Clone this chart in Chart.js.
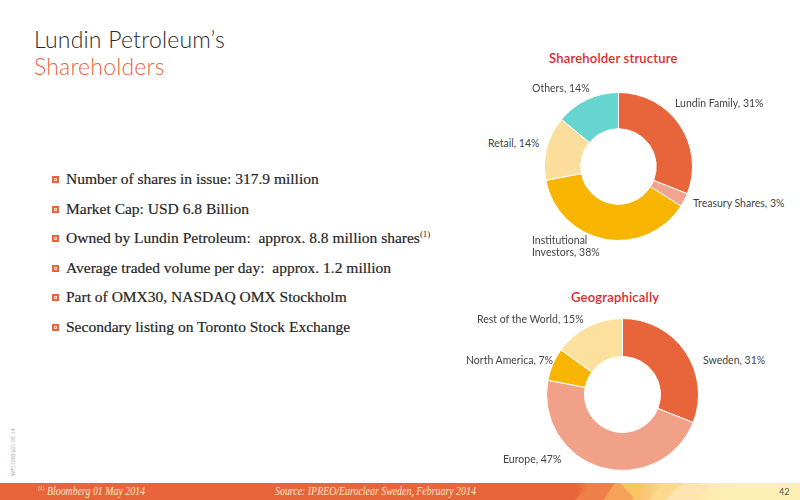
<!DOCTYPE html>
<html lang="en">
<head>
    <meta charset="UTF-8">
    <title>Lundin Petroleum's Shareholders</title>
    <script src="https://cdn.jsdelivr.net/npm/chart.js"></script>
    <style>
        body {
            margin: 0;
            width: 800px;
            height: 500px;
            position: relative;
            overflow: hidden;
            background: #fff;
            font-family: "Lato", sans-serif;
        }

        .title {
            position: absolute;
            left: 34px;
            top: 26px;
            font-size: 23px;
            font-weight: 300;
            line-height: 27px;
            color: #2b2b2b;
            letter-spacing: 0.2px;
        }

        .title span {
            color: #e8643a;
        }

        .bullets {
            position: absolute;
            left: 52px;
            top: 168px;
            margin: 0;
            padding: 0;
            list-style: none;
            font-family: "Liberation Serif", serif;
            font-size: 15.5px;
            color: #262626;
            -webkit-text-stroke: 0.2px #262626;
        }

        .bullets li {
            height: 29.5px;
            line-height: 22px;
            padding-left: 14px;
            position: relative;
        }

        .bullets li::before {
            content: "";
            position: absolute;
            left: 0;
            top: 8px;
            width: 7px;
            height: 7px;
            background: #e8643a;
        }

        .bullets li::after {
            content: "";
            position: absolute;
            left: 2px;
            top: 10px;
            width: 3px;
            height: 3px;
            border: 1px solid #fbd6c6;
            box-sizing: border-box;
        }

        .bullets sup {
            font-size: 9px;
            line-height: 0;
            vertical-align: 6px;
            -webkit-text-stroke: 0;
        }

        .chart-title {
            position: absolute;
            font-size: 13px;
            font-weight: 600;
            color: #e0282e;
            white-space: nowrap;
            letter-spacing: 0.2px;
        }

        .box {
            position: absolute;
        }

        .lbl {
            position: absolute;
            font-size: 10.5px;
            color: #444;
            line-height: 12px;
            white-space: nowrap;
        }

        .footer {
            position: absolute;
            left: 0;
            top: 483px;
            width: 800px;
            height: 17px;
            background: linear-gradient(to right, #e8643a 0, #e8643a 72%, #f08a4a 74%, #f7b25f 78%, #fbd889 83%, #fdeaae 88%, #fef0b5 92%);
            overflow: hidden;
        }

        .facet {
            position: absolute;
            top: 0;
            height: 17px;
        }

        .footer .note {
            position: absolute;
            top: 1px;
            font-family: "Liberation Serif", serif;
            font-style: italic;
            font-size: 12.5px;
            color: #fde8c8;
            white-space: nowrap;
            transform: scaleX(0.79);
            transform-origin: left center;
        }

        .footer .note sup {
            font-size: 7px;
        }

        .page {
            position: absolute;
            left: 779px;
            top: 3px;
            font-size: 9px;
            color: #555;
        }

        .code {
            position: absolute;
            left: -22px;
            top: 438px;
            transform: rotate(-90deg);
            font-size: 5px;
            color: #aaa;
            white-space: nowrap;
            width: 70px;
        }
    </style>
</head>
<body>
    <div class="title">Lundin Petroleum’s<br><span>Shareholders</span></div>

    <ul class="bullets">
        <li>Number of shares in issue: 317.9 million</li>
        <li>Market Cap: USD 6.8 Billion</li>
        <li>Owned by Lundin Petroleum:&nbsp; approx. 8.8 million shares<sup>(1)</sup></li>
        <li>Average traded volume per day:&nbsp; approx. 1.2 million</li>
        <li>Part of OMX30, NASDAQ OMX Stockholm</li>
        <li>Secondary listing on Toronto Stock Exchange</li>
    </ul>

    <div class="chart-title" style="left:549px; top:50px;">Shareholder structure</div>
    <div class="box" style="left:544px; top:92px; width:149px; height:149px;">
        <canvas id="holders"></canvas>
    </div>

    <div class="chart-title" style="left:571px; top:289px;">Geographically</div>
    <div class="box" style="left:546px; top:318px; width:153px; height:153px;">
        <canvas id="geo"></canvas>
    </div>

    <div class="code">WF11003 p01 05/14</div>

    <div class="footer">
        <div class="facet" style="left:575px; width:40px; background:#ee7f48; clip-path:polygon(0 100%, 40% 0, 100% 0, 70% 100%);"></div>
        <div class="facet" style="left:600px; width:40px; background:#f6a25a; clip-path:polygon(10% 100%, 45% 0, 100% 30%, 80% 100%);"></div>
        <div class="facet" style="left:620px; width:40px; background:#fbc55f; clip-path:polygon(0 0, 60% 0, 40% 100%);"></div>
        <div class="facet" style="left:640px; width:45px; background:#fdd98e; clip-path:polygon(20% 100%, 50% 0, 100% 0, 75% 100%);"></div>
        <div class="facet" style="left:665px; width:45px; background:#fde3b0; clip-path:polygon(0 100%, 40% 0, 100% 20%, 60% 100%);"></div>
        <div class="note" style="left:38px;"><sup>(1)</sup> Bloomberg 01 May 2014</div>
        <div class="note" style="left:275px;">Source: IPREO/Euroclear Sweden, February 2014</div>
        <div class="page">42</div>
    </div>

    <script>
        // shareholder structure
        const holderCats = ['Lundin Family', 'Treasury Shares', 'Institutional Investors', 'Retail', 'Others'];
        const holderVals = [31, 3, 38, 14, 14];
        const holderColors = ['#e8643a', '#f2a48e', '#f8b500', '#fbde9b', '#67d5cf'];

        // geographically
        const geoCats = ['Sweden', 'Europe', 'North America', 'Rest of the World'];
        const geoVals = [31, 47, 7, 15];
        const geoColors = ['#e8643a', '#f2a189', '#f8b500', '#fbe09e'];

        // label spots on the slide (left, middle y), one per slice
        const holderSpots = [[675, 103], [693, 203], [532, 246], [488, 143], [532, 88]];
        const geoSpots = [[703, 360], [503, 459], [466, 360], [477, 319]];

        function makeDonut(id, cats, vals, colors, cut) {
            return new Chart(document.getElementById(id), {
                type: 'doughnut',
                data: {
                    labels: cats,
                    datasets: [{
                        data: vals,
                        backgroundColor: colors,
                        borderColor: '#ffffff',
                        borderWidth: 1
                    }]
                },
                options: {
                    responsive: true,
                    maintainAspectRatio: false,
                    animation: false,
                    cutout: cut,
                    layout: { padding: 0 },
                    plugins: {
                        legend: { display: false },
                        tooltip: { enabled: false }
                    }
                }
            });
        }

        function addLabels(cats, vals, spots) {
            cats.forEach((c, i) => {
                const d = document.createElement('div');
                d.className = 'lbl';
                let txt = c + ', ' + vals[i] + '%';
                if (c === 'Institutional Investors') {
                    txt = 'Institutional<br>Investors, ' + vals[i] + '%';
                    d.style.top = (spots[i][1] - 12) + 'px';
                } else {
                    d.style.top = (spots[i][1] - 6) + 'px';
                }
                d.innerHTML = txt;
                d.style.left = spots[i][0] + 'px';
                document.body.appendChild(d);
            });
        }

        makeDonut('holders', holderCats, holderVals, holderColors, '51%');
        makeDonut('geo', geoCats, geoVals, geoColors, '50%');
        addLabels(holderCats, holderVals, holderSpots);
        addLabels(geoCats, geoVals, geoSpots);
    </script>
</body>
</html>
